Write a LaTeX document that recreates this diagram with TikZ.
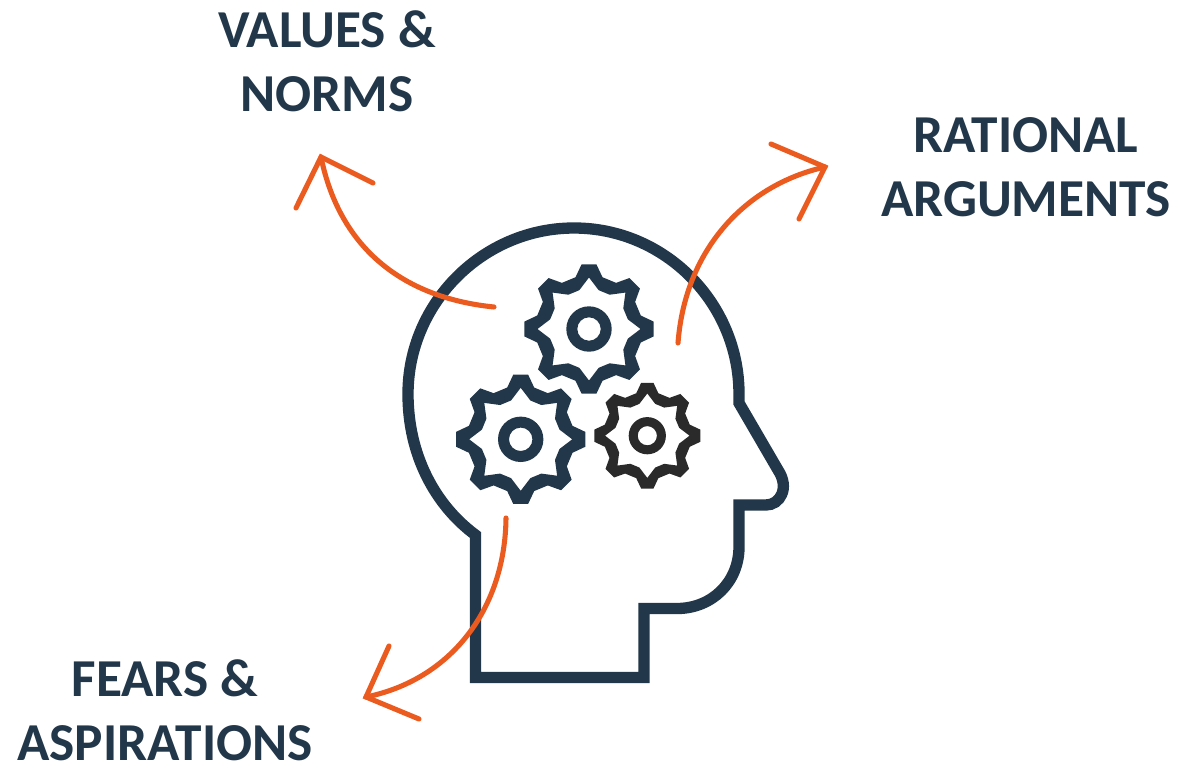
\documentclass[tikz,border=0pt]{standalone}
\usepackage{fontspec}
\setmainfont{Carlito}
\definecolor{navy}{HTML}{22374A}
\definecolor{orangeline}{HTML}{EB5A1E}
\definecolor{darkgear}{HTML}{2A2A2A}
\newcommand{\gearicon}[4]{%
  \begin{scope}[shift={(#1,#2)},scale=#3]
    \fill[#4,even odd rule]
      (-14.6:53.5) \foreach \a in {0,45,...,315}{ -- (\a-14.6:53.5) -- (\a-6.6:65) -- (\a+6.6:65) -- (\a+14.6:53.5)} -- cycle
      (0:51.5) \foreach \a in {0,45,...,315}{ -- (\a:51.5) -- (\a+14:40) -- (\a+31:40)} -- cycle
      (0,0) circle[radius=22.7]
      (0,0) circle[radius=11.7];
  \end{scope}}
\tikzset{
  headline/.style={draw=navy,line width=8.5pt,line join=miter,miter limit=10},
  flow/.style={draw=orangeline,line width=3.8pt,line cap=round},
  flowhead/.style={draw=orangeline,line width=3.8pt,line cap=round,line join=miter},
  label/.style={text=navy,font=\fontsize{40}{48}\selectfont\bfseries,align=center,inner sep=0pt}
}
\begin{document}
\begin{tikzpicture}[x=0.75pt,y=-0.75pt]
\useasboundingbox (0,0) rectangle (1178,764);
% head
\draw[headline] (475.5,677.5) -- (475.5,535)
  .. controls (435,505) and (408,455) .. (408,394)
  .. controls (408,303) and (483,228) .. (574,228)
  .. controls (665,228) and (739,303) .. (739,394)
  -- (739,403) -- (778,470)
  .. controls (790,488) and (780,505) .. (766,505)
  -- (739,505) -- (739,547)
  .. controls (739,582) and (712,608.5) .. (677,608.5)
  -- (644,608.5) -- (644,677.5) -- cycle;
% gears
\gearicon{589}{329}{1}{navy}
\gearicon{520.7}{439.3}{1}{navy}
\gearicon{647.3}{435.7}{0.82}{darkgear}
% arrows
\coordinate (vstart) at (494,307);
\coordinate (vtip) at (321,157);
\coordinate (vl) at (296,208);
\coordinate (vr) at (373,183);
\coordinate (rstart) at (678,343);
\coordinate (rtip) at (825,167);
\coordinate (rl) at (771,144);
\coordinate (rr) at (799,219);
\coordinate (fstart) at (506,518);
\coordinate (ftip) at (366,697);
\coordinate (fl) at (389,646);
\coordinate (fr) at (419,719);
\draw[flow] (vstart) .. controls (405,298) and (340,250) .. (vtip);
\draw[flowhead] (vl) -- (vtip) -- (vr);
\draw[flow] (rstart) .. controls (685,250) and (745,185) .. (rtip);
\draw[flowhead] (rl) -- (rtip) -- (rr);
\draw[flow] (fstart) .. controls (505,610) and (450,680) .. (ftip);
\draw[flowhead] (fl) -- (ftip) -- (fr);
% labels
\node[label] (values) at (327,61) {VALUES \&\\NORMS};
\node[label] (rational) at (1026,167) {RATIONAL\\ARGUMENTS};
\node[label] (fears) at (165,710) {FEARS \&\\ASPIRATIONS};
\end{tikzpicture}
\end{document}
